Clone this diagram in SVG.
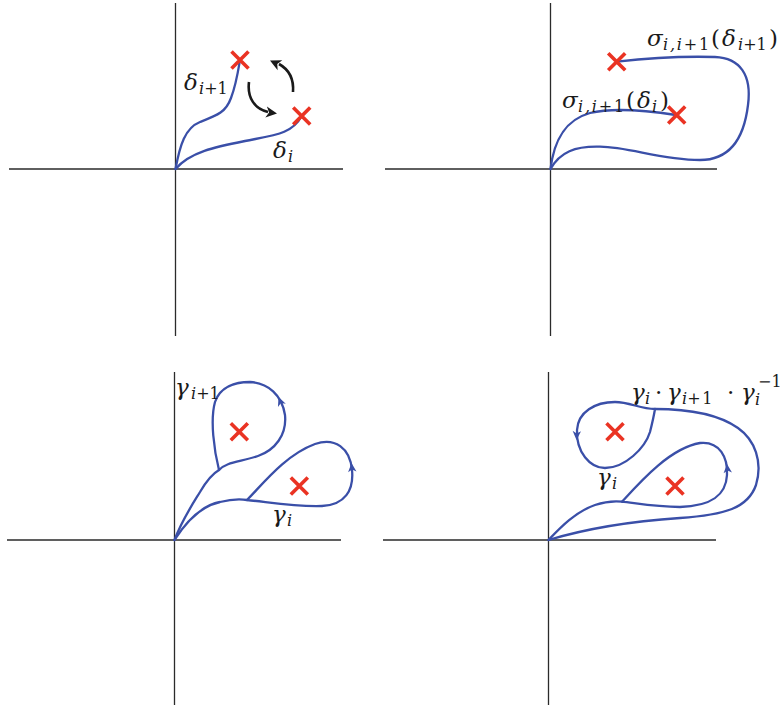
<svg xmlns="http://www.w3.org/2000/svg" width="782" height="708" viewBox="0 0 782 708">
<style>
.ax{stroke:#2b2b2b;stroke-width:1.3;fill:none}
.cv{stroke:#3a4fa8;stroke-width:2.3;fill:none;stroke-linecap:round;stroke-linejoin:round}
.x{stroke:#ea3323;stroke-width:3.6;stroke-linecap:butt}
.bk{stroke:#1a1a1a;stroke-width:2.6;fill:none}
.t{font-family:"DejaVu Serif","Liberation Serif",serif;fill:#1a1a1a}
.m{font-size:23px;font-style:italic;font-family:"DejaVu Serif",serif}
.r{font-size:23px;font-family:"DejaVu Serif",serif}
.s{font-size:16px;font-style:italic;font-family:"DejaVu Serif",serif}
.sr{font-size:16px;font-family:"DejaVu Serif",serif}
.w{letter-spacing:1.8px}
</style>
<defs>
<path id="ah" d="M0,0 L-9,-4.2 L-6.5,0 L-9,4.2 Z" fill="#3a4fa8"/>
<path id="bh" d="M0,0 L-11,-5.5 L-8,0 L-11,5.5 Z" fill="#1a1a1a"/>
<g id="cross"><path class="x" d="M-8.5,-8.5 L8.5,8.5 M-8.5,8.5 L8.5,-8.5"/></g>
</defs>

<g id="axes">
<path class="ax" d="M175.5,3 V336 M9,169 H343"/>
<path class="ax" d="M550.5,3 V336 M385,169 H717"/>
<path class="ax" d="M174.5,372 V705 M7,540 H341"/>
<path class="ax" d="M548.5,372 V705 M383,540 H716"/>
</g>

<g id="connectors">
<!-- panel 1 -->
<path class="cv" d="M175.5,169 C180,145 185,128 200,122 C218,115 226,112 231,98 C236,85 238,72 240,60"/>
<path class="cv" d="M175.5,169 C190,152 215,147 245,141 C275,135 292,134 301.7,116"/>
<path class="bk" d="M249,82 C247,98 255,109 268,112"/>
<use href="#bh" transform="translate(277,113.5) rotate(8)"/>
<path class="bk" d="M293,92 C294,78 288,69 279,64"/>
<use href="#bh" transform="translate(270,60.5) rotate(-155)"/>
<!-- panel 2 -->
<path class="cv" d="M550.5,169 C554,140 565,120 590,113 C615,107 650,111 676,115"/>
<path class="cv" d="M550.5,169 C560,152 575,146 600,146.7 C630,147 660,160 700,160 C735,160 745,130 748,105 C752,75 740,58 715,57 C680,56 640,59 617,61.7"/>
<!-- panel 3 -->
<path class="cv" d="M174.5,540 C182,520 192,505 200,492 C207,480 212,474 219,470"/>
<path class="cv" d="M219,470 C214,450 210,420 215,402 C220,387 235,382 250,382 C268,383 282,395 285,415 C287,435 275,450 258,456 C240,462 226,462 219,470"/>
<use href="#ah" transform="translate(278.5,397) rotate(-112)"/>
<path class="cv" d="M174.5,540 C186,522 200,506 220,502 C232,499 240,499 247,500"/>
<path class="cv" d="M247,500 C262,485 285,455 315,444 C335,437 350,448 352,470 C354,490 345,505 322,506 C295,507 268,502 247,500"/>
<use href="#ah" transform="translate(351.5,463) rotate(-95)"/>
<!-- panel 4 -->
<path class="cv" d="M548.5,540 C560,528 575,512 595,505 C607,501 615,501 622,501.7"/>
<path class="cv" d="M622,501.7 C640,482 670,448 700,443 C720,441 728,458 727,475 C726,495 712,506 680,507 C655,507 635,503 622,501.7"/>
<use href="#ah" transform="translate(727,464) rotate(-95)"/>
<path class="cv" d="M548.5,540 C575,532 620,522 680,518 C725,515 748,508 756,485 C763,462 755,440 738,428 C718,414 690,409 655,409"/>
<path class="cv" d="M655,409 C640,409 630,402 615,402 C595,402 578,412 577,430 C576,452 590,468 605,468 C625,468 645,448 650,432 C652,424 654,415 655,409"/>
<use href="#ah" transform="translate(576.5,440) rotate(92)"/>
</g>

<g id="marks">
<use href="#cross" x="240" y="60"/>
<use href="#cross" x="301.7" y="116"/>
<use href="#cross" x="616.7" y="61.7"/>
<use href="#cross" x="676.7" y="115"/>
<use href="#cross" x="239.3" y="431.7"/>
<use href="#cross" x="299.3" y="486"/>
<use href="#cross" x="615" y="431.7"/>
<use href="#cross" x="675" y="486"/>
</g>

<g id="labels">
<text class="t"><tspan class="m" x="184" y="90">δ</tspan><tspan class="s" x="199" y="94">i</tspan><tspan class="sr">+1</tspan></text>
<text class="t"><tspan class="m" x="273" y="158">δ</tspan><tspan class="s" x="288" y="162">i</tspan></text>

<text class="t"><tspan class="m" x="647" y="46">σ</tspan><tspan class="s w" x="663" y="50">i,i</tspan><tspan class="sr w">+1</tspan><tspan class="r" x="711" y="46">(</tspan><tspan class="m" x="722" y="46">δ</tspan><tspan class="s" x="738" y="50">i</tspan><tspan class="sr">+1</tspan><tspan class="r" x="769" y="46">)</tspan></text>
<text class="t"><tspan class="m" x="562" y="108">σ</tspan><tspan class="s w" x="578" y="112">i,i</tspan><tspan class="sr w">+1</tspan><tspan class="r" x="626" y="108">(</tspan><tspan class="m" x="637" y="108">δ</tspan><tspan class="s" x="652" y="112">i</tspan><tspan class="r" x="660" y="108">)</tspan></text>

<text class="t"><tspan class="m" x="175" y="395">γ</tspan><tspan class="s" x="191" y="399">i</tspan><tspan class="sr">+1</tspan></text>
<text class="t"><tspan class="m" x="272" y="522">γ</tspan><tspan class="s" x="287" y="526">i</tspan></text>

<text class="t"><tspan class="m" x="597" y="485">γ</tspan><tspan class="s" x="612" y="489">i</tspan></text>
<text class="t"><tspan class="m" x="631" y="400">γ</tspan><tspan class="s" x="645" y="404">i</tspan><tspan class="r" x="655" y="400">·</tspan><tspan class="m" x="667" y="400">γ</tspan><tspan class="s" x="682" y="404">i</tspan><tspan class="sr w">+1</tspan><tspan class="r" x="727" y="400">·</tspan><tspan class="m" x="741" y="400">γ</tspan><tspan class="s" x="755" y="405">i</tspan><tspan class="sr" x="758" y="387">−1</tspan></text>
</g>
</svg>
